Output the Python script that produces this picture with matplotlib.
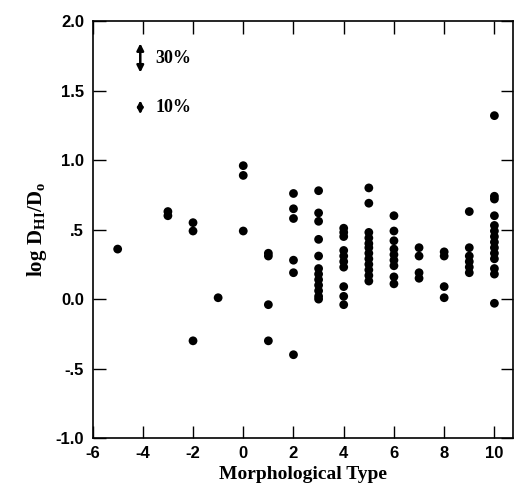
import matplotlib
matplotlib.use('Agg')
import matplotlib.pyplot as plt

plt.rcParams['mathtext.fontset'] = 'custom'
plt.rcParams['mathtext.rm'] = 'Liberation Serif:bold'
plt.rcParams['mathtext.it'] = 'Liberation Serif:bold'
plt.rcParams['mathtext.bf'] = 'Liberation Serif:bold'

# log D_HI/D_o values per morphological type
data = {
    -5: [0.36],
    -3: [0.63, 0.60],
    -2: [0.55, 0.49, -0.30],
    -1: [0.01],
    0: [0.96, 0.89, 0.49],
    1: [0.33, 0.31, -0.04, -0.30],
    2: [0.76, 0.65, 0.58, 0.28, 0.19, -0.40],
    3: [0.78, 0.62, 0.56, 0.43, 0.31, 0.22, 0.18, 0.14, 0.10, 0.06, 0.02, 0.0],
    4: [0.51, 0.48, 0.45, 0.35, 0.31, 0.27, 0.23, 0.09, 0.02, -0.04],
    5: [0.80, 0.69, 0.48, 0.44, 0.40, 0.37, 0.33, 0.29, 0.25, 0.21, 0.17, 0.13],
    6: [0.60, 0.49, 0.42, 0.36, 0.32, 0.28, 0.24, 0.16, 0.11],
    7: [0.37, 0.31, 0.19, 0.15],
    8: [0.34, 0.31, 0.09, 0.01],
    9: [0.63, 0.37, 0.31, 0.27, 0.23, 0.19],
    10: [1.32, 0.74, 0.72, 0.60, 0.53, 0.49, 0.45, 0.41, 0.37, 0.33, 0.29, 0.22, 0.18, -0.03],
}

types = []
values = []
for t, vals in data.items():
    for v in vals:
        types.append(t)
        values.append(v)

xticks = [-6, -4, -2, 0, 2, 4, 6, 8, 10]
yticks = [-1.0, -0.5, 0.0, 0.5, 1.0, 1.5, 2.0]
ytick_labels = ['-1.0', '-.5', '0.0', '.5', '1.0', '1.5', '2.0']

fig = plt.figure(figsize=(5.2, 5.03), dpi=100)
ax = fig.add_axes([0.178, 0.129, 0.809, 0.829])

ax.scatter(types, values, s=40, color='black', edgecolors='none', zorder=3)

# error scale arrows
ax.annotate('', xy=(-4.1, 1.63), xytext=(-4.1, 1.84),
            arrowprops=dict(arrowstyle='<|-|>', color='black', lw=1.8,
                            mutation_scale=10, shrinkA=0, shrinkB=0))
ax.annotate('', xy=(-4.1, 1.33), xytext=(-4.1, 1.43),
            arrowprops=dict(arrowstyle='<|-|>', color='black', lw=1.8,
                            mutation_scale=8, shrinkA=0, shrinkB=0))
ax.text(-3.5, 1.73, '30%', family='Liberation Serif', weight='bold',
        fontsize=13, va='center', ha='left')
ax.text(-3.5, 1.38, '10%', family='Liberation Serif', weight='bold',
        fontsize=13, va='center', ha='left')

ax.set_xlim(-6, 10.75)
ax.set_ylim(-1.0, 2.0)
ax.set_xticks(xticks)
ax.set_xticklabels([str(t) for t in xticks])
ax.set_yticks(yticks)
ax.set_yticklabels(ytick_labels)
ax.tick_params(direction='in', length=9, width=1, top=True, right=True,
               labelsize=12, pad=6)
for lab in ax.get_xticklabels() + ax.get_yticklabels():
    lab.set_family('Liberation Sans')
    lab.set_weight('bold')
for sp in ax.spines.values():
    sp.set_linewidth(1.2)

ax.set_xlabel('Morphological Type', family='Liberation Serif', weight='bold',
              fontsize=14, labelpad=3)
ax.set_ylabel(r'$\mathrm{log\ D_{HI}/D_o}$', fontsize=15, labelpad=5)

fig.savefig('out.png', dpi=100)
